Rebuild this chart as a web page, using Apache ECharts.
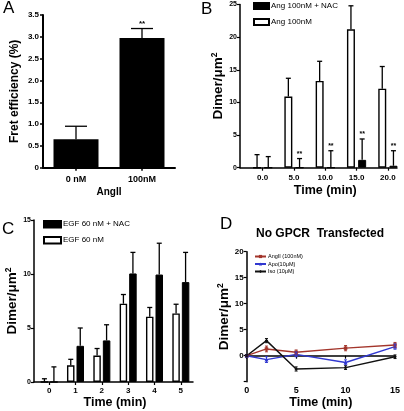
<!DOCTYPE html>
<html><head><meta charset="utf-8">
<script src="https://cdn.jsdelivr.net/npm/echarts@6/dist/echarts.min.js"></script>
<style>html,body{margin:0;padding:0;background:#fff}#c{width:404px;height:411px}</style>
</head><body><div id="c"></div>
<script>
// ---- Panel A ----
const catsA = ['0 nM', '100nM'];
const fretA = [0.65, 2.97];
const fretAErr = [0.3, 0.22];
const sigA = ['', '**'];
// ---- Panel B ----
const catsB = ['0.0', '5.0', '10.0', '15.0', '20.0'];
const angB = [0, 10.9, 13.3, 21.2, 12.1];
const angBErr = [2.0, 2.8, 3.0, 3.6, 3.4];
const nacB = [0, 0, 0, 1.2, 0.3];
const nacBErr = [1.7, 1.4, 2.6, 3.2, 2.3];
const sigB = ['', '**', '**', '**', '**'];
// ---- Panel C ----
const catsC = ['0', '1', '2', '3', '4', '5'];
const egfC = [0, 1.55, 2.45, 7.25, 6.05, 6.35];
const egfCErr = [0.3, 0.55, 0.65, 0.85, 0.85, 0.85];
const nacC = [0, 3.35, 3.85, 10.05, 9.95, 9.25];
const nacCErr = [1.4, 1.65, 1.45, 1.95, 2.9, 2.75];
// ---- Panel D ----
const timesD = [0, 2, 5, 10, 15];
const angD = [0, 1.3, 0.65, 1.45, 2.05];
const angDErr = [0.2, 0.55, 0.45, 0.5, 0.5];
const apoD = [0, -0.75, 0.25, -1.3, 1.75];
const apoDErr = [0.2, 0.55, 0.45, 0.5, 0.5];
const isoD = [0, 2.9, -2.55, -2.3, -0.2];
const isoDErr = [0.2, 0.4, 0.4, 0.35, 0.35];

const FF = '"Liberation Sans", Arial, sans-serif';
const chart = echarts.init(document.getElementById('c'), null, {renderer: 'canvas'});

function barErr(xi, yi, vals, errs, off, cap, marks, markSize) {
  return {
    type: 'custom', xAxisIndex: xi, yAxisIndex: yi, silent: true, z: 5,
    encode: {x: 0, y: [1, 2]},
    data: vals.map((v, i) => [i, v, v + errs[i]]),
    renderItem: function (params, api) {
      const b = api.coord([api.value(0), api.value(1)]);
      const t = api.coord([api.value(0), api.value(2)]);
      const x = b[0] + off;
      const st = {stroke: '#000', lineWidth: 1.3};
      const ch = [
        {type: 'line', shape: {x1: x, y1: b[1], x2: x, y2: t[1]}, style: st},
        {type: 'line', shape: {x1: x - cap, y1: t[1], x2: x + cap, y2: t[1]}, style: st}
      ];
      const m = marks ? marks[params.dataIndex] : '';
      if (m) ch.push({type: 'text', style: {text: m, x: x, y: t[1] - 1, align: 'center', verticalAlign: 'bottom', font: 'bold ' + markSize + 'px ' + FF, fill: '#000'}});
      return {type: 'group', children: ch};
    }
  };
}
function lineErr(xi, yi, xs, vals, errs, color) {
  return {
    type: 'custom', xAxisIndex: xi, yAxisIndex: yi, silent: true, z: 4,
    encode: {x: 0, y: [1, 2]},
    data: vals.map((v, i) => [xs[i], v - errs[i], v + errs[i]]),
    renderItem: function (params, api) {
      const lo = api.coord([api.value(0), api.value(1)]);
      const hi = api.coord([api.value(0), api.value(2)]);
      const st = {stroke: color, lineWidth: 1};
      return {type: 'group', children: [
        {type: 'line', shape: {x1: lo[0], y1: lo[1], x2: hi[0], y2: hi[1]}, style: st},
        {type: 'line', shape: {x1: lo[0] - 1.5, y1: lo[1], x2: lo[0] + 1.5, y2: lo[1]}, style: st},
        {type: 'line', shape: {x1: hi[0] - 1.5, y1: hi[1], x2: hi[0] + 1.5, y2: hi[1]}, style: st}
      ]};
    }
  };
}
const axLine = (w) => ({show: true, lineStyle: {color: '#000', width: w}});
const tick = (len, w) => ({show: true, length: len, lineStyle: {color: '#000', width: w}});
const lab = (sz) => ({color: '#000', fontFamily: FF, fontWeight: 'bold', fontSize: sz});
const dimerName = 'Dimer/μm{s|2}';
const dimerStyle = {color: '#000', fontFamily: FF, fontWeight: 'bold', fontSize: 13.5,
  rich: {s: {fontFamily: FF, fontWeight: 'bold', fontSize: 8.5, verticalAlign: 'top', padding: [0, 0, 7, 0]}}};
const timeStyle = {color: '#000', fontFamily: FF, fontWeight: 'bold', fontSize: 12.5};
const hiddenX = (g) => ({gridIndex: g, type: 'value', min: 0, max: 1, axisLine: axLine(1.5), axisTick: {show: false}, axisLabel: {show: false}, splitLine: {show: false}});

const option = {
  animation: false,
  textStyle: {fontFamily: FF},
  grid: [
    {left: 43, top: 15, width: 132, height: 152.7},
    {left: 240, top: 4.5, width: 157, height: 163.2},
    {left: 247, top: 4.5, width: 156.5, height: 163.2},
    {left: 34, top: 220, width: 159, height: 162},
    {left: 36, top: 220, width: 158, height: 162},
    {left: 246.7, top: 251.7, width: 148.3, height: 130}
  ],
  xAxis: [
    {gridIndex: 0, type: 'category', data: catsA, axisLine: axLine(2), axisTick: Object.assign(tick(3, 1.5), {alignWithLabel: true}),
      axisLabel: Object.assign(lab(9), {margin: 7}), name: 'AngII', nameLocation: 'middle', nameGap: 20, nameTextStyle: lab(10)},
    hiddenX(1),
    {gridIndex: 2, type: 'category', data: catsB, axisLine: {show: false}, axisTick: Object.assign(tick(3, 1.2), {alignWithLabel: true}),
      axisLabel: Object.assign(lab(8), {margin: 6}), name: 'Time (min)', nameLocation: 'middle', nameGap: 16, nameTextStyle: timeStyle},
    hiddenX(3),
    {gridIndex: 4, type: 'category', data: catsC, axisLine: {show: false}, axisTick: Object.assign(tick(3, 1.2), {alignWithLabel: true}),
      axisLabel: Object.assign(lab(8), {margin: 5}), name: 'Time (min)', nameLocation: 'middle', nameGap: 14, nameTextStyle: timeStyle},
    {gridIndex: 5, type: 'value', min: 0, max: 15, interval: 5, axisLine: axLine(1.5), axisTick: tick(3, 1.2),
      axisLabel: Object.assign(lab(9), {margin: 4}), splitLine: {show: false}, name: 'Time (min)', nameLocation: 'middle', nameGap: 14, nameTextStyle: timeStyle}
  ],
  yAxis: [
    {gridIndex: 0, type: 'value', min: 0, max: 3.5, interval: 0.5, axisLine: axLine(2), axisTick: tick(3, 1.5),
      axisLabel: Object.assign(lab(8), {margin: 4, formatter: v => v === 0 ? '0' : v.toFixed(1)}), splitLine: {show: false},
      name: 'Fret efficiency (%)', nameLocation: 'middle', nameGap: 22, nameTextStyle: lab(12)},
    {gridIndex: 1, type: 'value', min: 0, max: 25, interval: 5, axisLine: axLine(1.5), axisTick: tick(3, 1.2),
      axisLabel: Object.assign(lab(7), {margin: 3}), splitLine: {show: false},
      name: dimerName, nameLocation: 'middle', nameGap: 12, nameTextStyle: dimerStyle},
    {gridIndex: 2, type: 'value', min: 0, max: 25, show: false, splitLine: {show: false}},
    {gridIndex: 3, type: 'value', min: 0, max: 15, interval: 5, axisLine: axLine(1.5), axisTick: tick(3, 1.2),
      axisLabel: Object.assign(lab(7), {margin: 3}), splitLine: {show: false},
      name: dimerName, nameLocation: 'middle', nameGap: 9, nameTextStyle: dimerStyle},
    {gridIndex: 4, type: 'value', min: 0, max: 15, show: false, splitLine: {show: false}},
    {gridIndex: 5, type: 'value', min: -5, max: 20, interval: 5, axisLine: axLine(1.5), axisTick: tick(3, 1.2),
      axisLabel: Object.assign(lab(8), {margin: 3, formatter: v => v < 0 ? '' : String(v)}), splitLine: {show: false},
      name: dimerName, nameLocation: 'middle', nameGap: 13, nameTextStyle: dimerStyle}
  ],
  legend: [
    {data: ['Ang 100nM + NAC', 'Ang 100nM'], orient: 'vertical', left: 253, top: 2, padding: 0, itemGap: 8,
      itemWidth: 15, itemHeight: 6, icon: 'rect', textStyle: {fontFamily: FF, fontSize: 8, color: '#000', padding: [0, 0, 0, -3]}},
    {data: ['EGF 60 nM + NAC', 'EGF 60 nM'], orient: 'vertical', left: 43, top: 220, padding: 0, itemGap: 7.5,
      itemWidth: 17, itemHeight: 6.5, icon: 'rect', textStyle: {fontFamily: FF, fontSize: 8, color: '#000', padding: [0, 0, 0, -3]}},
    {data: ['AngII (100nM)', 'Apo(10μM)', 'Iso (10μM)'], orient: 'vertical', left: 254, top: 253.5, padding: 0, itemGap: 1.5,
      itemWidth: 11, itemHeight: 4, textStyle: {fontFamily: FF, fontSize: 5.5, color: '#000', padding: [0, 0, 0, -3]}}
  ],
  title: [
    {text: 'No GPCR  Transfected', left: 256, top: 228, padding: 0,
      textStyle: {fontFamily: FF, fontWeight: 'bold', fontSize: 12, color: '#000'}}
  ],
  graphic: [
    {type: 'text', left: 3, top: 0, style: {text: 'A', font: '17px ' + FF, fill: '#000'}},
    {type: 'text', left: 201, top: 1, style: {text: 'B', font: '17px ' + FF, fill: '#000'}},
    {type: 'text', left: 2, top: 221, style: {text: 'C', font: '17px ' + FF, fill: '#000'}},
    {type: 'text', left: 220, top: 216, style: {text: 'D', font: '17px ' + FF, fill: '#000'}}
  ],
  series: [
    {type: 'bar', xAxisIndex: 0, yAxisIndex: 0, data: fretA, barWidth: 45, itemStyle: {color: '#000'}},
    barErr(0, 0, fretA, fretAErr, 0, 11, sigA, 8),

    {name: 'Ang 100nM', type: 'bar', xAxisIndex: 2, yAxisIndex: 2, data: angB, barWidth: 8, barGap: '40%',
      itemStyle: {color: '#fff', borderColor: '#000', borderWidth: 1.4}},
    {name: 'Ang 100nM + NAC', type: 'bar', xAxisIndex: 2, yAxisIndex: 2, data: nacB, barWidth: 8, barGap: '40%',
      itemStyle: {color: '#000', borderColor: '#000', borderWidth: 1}},
    barErr(2, 2, angB, angBErr, -5.6, 2.5, null, 7),
    barErr(2, 2, nacB, nacBErr, 5.6, 2.5, sigB, 7),

    {name: 'EGF 60 nM', type: 'bar', xAxisIndex: 4, yAxisIndex: 4, data: egfC, barWidth: 7.5, barGap: '27%',
      itemStyle: {color: '#fff', borderColor: '#000', borderWidth: 1.4}},
    {name: 'EGF 60 nM + NAC', type: 'bar', xAxisIndex: 4, yAxisIndex: 4, data: nacC, barWidth: 7.5, barGap: '27%',
      itemStyle: {color: '#000', borderColor: '#000', borderWidth: 1}},
    barErr(4, 4, egfC, egfCErr, -4.75, 2.5, null, 7),
    barErr(4, 4, nacC, nacCErr, 4.75, 2.5, null, 7),

    {name: 'AngII (100nM)', type: 'line', xAxisIndex: 5, yAxisIndex: 5, data: timesD.map((t, i) => [t, angD[i]]),
      symbol: 'rect', symbolSize: 3.5, lineStyle: {color: '#a3352b', width: 1.4}, itemStyle: {color: '#a3352b'}},
    {name: 'Apo(10μM)', type: 'line', xAxisIndex: 5, yAxisIndex: 5, data: timesD.map((t, i) => [t, apoD[i]]),
      symbol: 'triangle', symbolSize: 4, lineStyle: {color: '#3138d0', width: 1.4}, itemStyle: {color: '#3138d0'}},
    {name: 'Iso (10μM)', type: 'line', xAxisIndex: 5, yAxisIndex: 5, data: timesD.map((t, i) => [t, isoD[i]]),
      symbol: 'diamond', symbolSize: 3.5, lineStyle: {color: '#111', width: 1.4}, itemStyle: {color: '#111'}},
    lineErr(5, 5, timesD, angD, angDErr, '#a3352b'),
    lineErr(5, 5, timesD, apoD, apoDErr, '#3138d0'),
    lineErr(5, 5, timesD, isoD, isoDErr, '#111')
  ]
};
chart.setOption(option);
</script></body></html>
